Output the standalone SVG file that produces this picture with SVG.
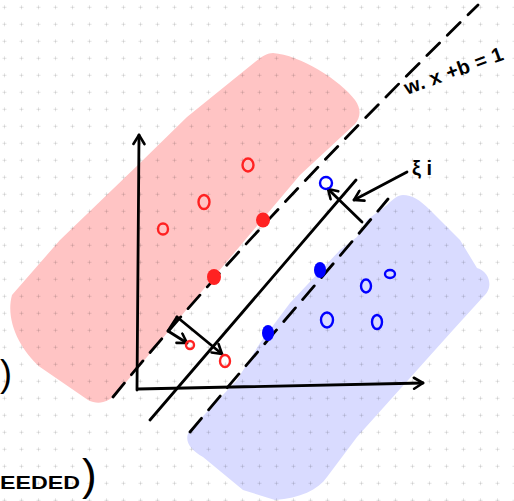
<svg xmlns="http://www.w3.org/2000/svg" width="514" height="501" viewBox="0 0 514 501">
<defs>
<pattern id="grid" width="17" height="17" patternUnits="userSpaceOnUse">
<path d="M2.5,7.3 h4 M4.5,5.3 v4" stroke="#000" stroke-opacity="0.16" stroke-width="0.7" fill="none"/>
</pattern>
<marker id="ah" markerWidth="14" markerHeight="14" refX="11" refY="7" orient="auto" markerUnits="userSpaceOnUse">
<path d="M2,1.5 L11,7 L2,12.5" fill="none" stroke="#000" stroke-width="2.6" stroke-linecap="round" stroke-linejoin="round"/>
</marker>
<style>
.ln{fill:none;stroke:#000;stroke-width:2.8;stroke-linecap:round;stroke-linejoin:round}
.dash{fill:none;stroke:#000;stroke-width:2.8;stroke-dasharray:18 11;stroke-linecap:round}
.ro{fill:none;stroke:#ff2222;stroke-width:2.4}
.rf{fill:#ff2222}
.bo{fill:none;stroke:#0000ff;stroke-width:2.4}
.bf{fill:#0000ff}
.hw{font-family:"Liberation Sans",Arial,sans-serif;font-weight:bold;fill:#000}
</style>
</defs>
<rect width="514" height="501" fill="#fff"/>
<g id="regions">
<path id="red-region" fill="#ffc4c4" d="M273,53 C300,55 340,80 355,100 C362,110 360,118 355,124 L300,175 L197,297 L117,393 C108,403 98,405 88,400 L40,367 C20,350 5,320 12,295 L60,240 L140,163 L187,117 L255,62 C262,56 268,53 273,53 Z"/>
<path id="blue-region" fill="#d9dbff" d="M403,195 C412,195 420,200 430,210 L460,240 L477,268 C490,272 494,288 483,297 L453,330 L357,437 L327,477 C318,490 300,498 275,500 L243,490 L203,457 C190,450 183,440 190,430 L237,380 L260,343 L290,303 L340,250 L357,237 L367,220 L387,205 C393,199 398,195 403,195 Z"/>
</g>
<rect width="514" height="501" fill="url(#grid)"/>
<g id="connectors">
<path class="dash" d="M113,397 C200,290 330,150 478,5"/>
<path class="dash" d="M190,432 C250,360 320,280 388,199"/>
<path class="ln" d="M150,420 L356,180"/>
<path class="ln" d="M137,390 L139,135" marker-end="url(#ah)"/>
<path class="ln" d="M138,389 C250,387 350,385 423,383" marker-end="url(#ah)"/>
<path class="ln" d="M362,222 L328,189" marker-end="url(#ah)"/>
<path class="ln" d="M407,172 L354,200" marker-end="url(#ah)"/>
<path class="ln" d="M177,317 L168,331"/>
<path class="ln" d="M168,331 L187,343" marker-end="url(#ah)"/>
<path class="ln" d="M177,317 L222,354" marker-end="url(#ah)"/>
</g>
<g id="red-points">
<ellipse class="ro" cx="248" cy="165" rx="5.5" ry="6.5"/>
<ellipse class="ro" cx="204" cy="202" rx="5.5" ry="7"/>
<ellipse class="ro" cx="163" cy="229" rx="5" ry="5.5"/>
<ellipse class="ro" cx="190" cy="345" rx="4" ry="4"/>
<ellipse class="ro" cx="225" cy="361" rx="5" ry="6"/>
<ellipse class="rf" cx="263" cy="220" rx="7" ry="7.5"/>
<ellipse class="rf" cx="214" cy="277" rx="7" ry="8"/>
</g>
<g id="blue-points">
<circle class="bo" cx="326" cy="183" r="6"/>
<ellipse class="bo" cx="366" cy="286" rx="5" ry="6.5"/>
<ellipse class="bo" cx="390" cy="274" rx="5" ry="4"/>
<ellipse class="bo" cx="327" cy="320" rx="6" ry="7.5"/>
<ellipse class="bo" cx="377" cy="322" rx="5" ry="7"/>
<ellipse class="bf" cx="320" cy="270" rx="6" ry="8"/>
<ellipse class="bf" cx="268" cy="333" rx="6" ry="8"/>
</g>
<g id="labels">
<text class="hw" x="407" y="95" font-size="20" textLength="104" lengthAdjust="spacing" transform="rotate(-20 407 95)">w. x +b = 1</text>
<text class="hw" x="412" y="175" font-size="20">ξ i</text>
<text class="hw" x="0" y="489" font-size="19" textLength="80" lengthAdjust="spacingAndGlyphs">EEDED</text>
<text x="82" y="490" font-size="44" font-family="Liberation Sans,Arial,sans-serif" fill="#000">)</text>
<text x="0" y="386" font-size="36" font-family="Liberation Sans,Arial,sans-serif" fill="#000">)</text>
</g>
</svg>
